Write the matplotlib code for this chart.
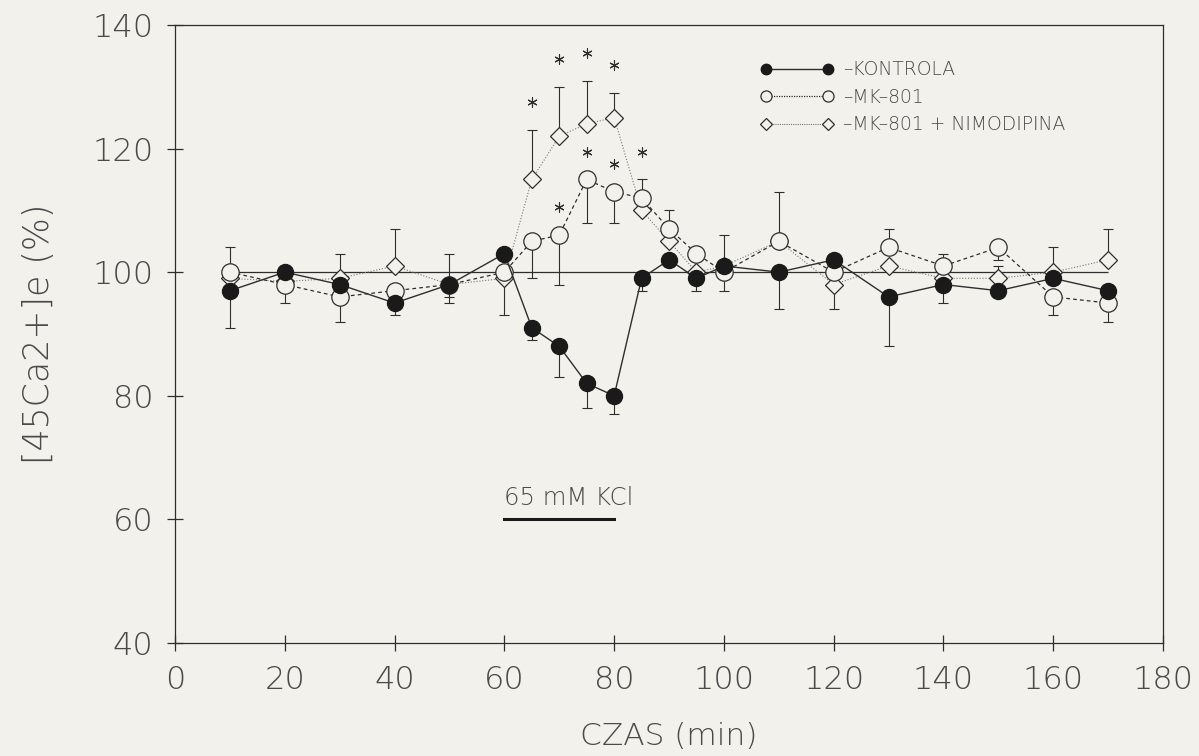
import numpy as np
from matplotlib import pyplot as plt
from matplotlib.lines import Line2D

# sampling times (min)
czas = [10, 20, 30, 40, 50, 60, 65, 70, 75, 80, 85, 90, 95, 100,
        110, 120, 130, 140, 150, 160, 170]

# [45Ca2+]e as % of baseline
kontrola = [97, 100, 98, 95, 98, 103, 91, 88, 82, 80, 99, 102, 99, 101,
            100, 102, 96, 98, 97, 99, 97]
mk801 = [100, 98, 96, 97, 98, 100, 105, 106, 115, 113, 112, 107, 103, 100,
         105, 100, 104, 101, 104, 96, 95]
nimodipina = [99, 98.5, 99, 101, 98, 99, 115, 122, 124, 125, 110, 105, 100, 101,
              105, 98, 101, 99, 99, 100, 102]

# SEM, only the side that is drawn (0 = not drawn)
kontrola_up = [0, 1, 0, 0, 5, 0, 0, 0, 0, 0, 0, 0, 0, 0, 0, 1, 0, 0, 0, 0, 0]
kontrola_dn = [6, 0, 0, 2, 0, 0, 2, 5, 4, 3, 2, 0, 2, 4, 6, 0, 8, 3, 0, 0, 0]
mk801_up = [4, 0, 0, 0, 0, 0, 0, 0, 0, 0, 3, 3, 1, 6, 8, 0, 3, 2, 0, 0, 0]
mk801_dn = [0, 3, 4, 0, 3, 7, 6, 8, 7, 5, 0, 0, 0, 0, 0, 0, 0, 0, 2, 3, 3]
nimodipina_up = [0, 0, 4, 6, 0, 0, 8, 8, 7, 4, 0, 0, 0, 0, 0, 0, 0, 0, 2, 4, 5]
nimodipina_dn = [0, 0, 0, 0, 2, 0, 0, 0, 0, 0, 0, 0, 0, 0, 0, 4, 0, 0, 0, 0, 0]

# significant points (p < 0.05)
mk801_sig = [70, 75, 80, 85]
nimodipina_sig = [65, 70, 75, 80]

# KCl application window
kcl_start, kcl_end, kcl_level = 60, 80, 60
kcl_label = "65 mM KCl"

bg = "#f2f1ec"
ink = "#2e2e2e"
txt = "#4a4a4a"

plt.rcParams["font.family"] = ["DejaVu Sans"]
plt.rcParams["font.weight"] = 200

fig = plt.figure(figsize=(11.99, 7.56), dpi=100, facecolor=bg)
ax = fig.add_axes([0.146, 0.1495, 0.824, 0.8175], facecolor=bg)


def draw_err(x, y, up, dn):
    x = np.asarray(x, float)
    y = np.asarray(y, float)
    for err, upper in ((np.asarray(up, float), True), (np.asarray(dn, float), False)):
        m = err > 0
        zeros = np.zeros(m.sum())
        yerr = [zeros, err[m]] if upper else [err[m], zeros]
        ax.errorbar(x[m], y[m], yerr=yerr, fmt="none", ecolor=ink,
                    elinewidth=0.8, capsize=3.6, capthick=0.8, zorder=2)


def draw_stars(sig, y, up):
    top = {t: v + e for t, v, e in zip(czas, y, up)}
    ax.scatter(sig, [top[t] + 4.5 for t in sig], marker=(6, 2, 0), s=45,
               color=ink, linewidths=0.8, zorder=5)


ax.hlines(100, czas[0], czas[-1], color=ink, lw=0.9, zorder=1)

draw_err(czas, nimodipina, nimodipina_up, nimodipina_dn)
draw_err(czas, mk801, mk801_up, mk801_dn)
draw_err(czas, kontrola, kontrola_up, kontrola_dn)

ax.plot(czas, nimodipina, color="#777777", lw=0.8, ls=(0, (1, 1.6)),
        marker="D", ms=9, mfc=bg, mec=ink, mew=0.9, zorder=3)
ax.plot(czas, mk801, color=ink, lw=0.9, ls=(0, (3, 2.5)),
        marker="o", ms=12.5, mfc=bg, mec=ink, mew=0.9, zorder=3.5)
ax.plot(czas, kontrola, color=ink, lw=1.0, ls="-",
        marker="o", ms=11.5, mfc="#1a1a1a", mec="#1a1a1a", zorder=4)

draw_stars(mk801_sig, mk801, mk801_up)
draw_stars(nimodipina_sig, nimodipina, nimodipina_up)

# KCl bar
ax.plot([kcl_start, kcl_end], [kcl_level, kcl_level], color="#1a1a1a", lw=2.2)
ax.text(kcl_start, kcl_level + 2.3, kcl_label, fontsize=17.5, color=txt,
        ha="left", va="baseline")

ax.set_xlim(0, 180)
ax.set_ylim(40, 140)
ax.set_xticks(np.arange(0, 181, 20))
ax.set_yticks(np.arange(40, 141, 20))
ax.tick_params(axis="both", direction="inout", length=11, width=0.9,
               color=ink, labelsize=23, labelcolor=txt)
ax.tick_params(axis="x", pad=10)
ax.tick_params(axis="y", pad=10)
for s in ax.spines.values():
    s.set_color(ink)
    s.set_linewidth(0.9)

ax.set_xlabel("CZAS (min)", fontsize=22.5, fontweight=200, color=txt, labelpad=20)
ax.set_ylabel("[45Ca2+]e (%)", fontsize=25, fontweight=200, color=txt, labelpad=26)

handles = [
    Line2D([], [], color=ink, lw=1.0, marker="o", ms=7.5, mfc="#1a1a1a", mec="#1a1a1a"),
    Line2D([], [], color=ink, lw=0.9, ls=(0, (1, 1)), marker="o", ms=8, mfc=bg, mec=ink, mew=0.9),
    Line2D([], [], color="#777777", lw=0.8, ls=(0, (1, 1)), marker="D", ms=6, mfc=bg, mec=ink, mew=0.9),
]
labels = ["\u2013KONTROLA", "\u2013MK\u2013801", "\u2013MK\u2013801 + NIMODIPINA"]
ax.legend(handles, labels, loc="upper left", bbox_to_anchor=(0.575, 0.97),
          frameon=False, numpoints=2, handlelength=3.9, handletextpad=0.55,
          labelspacing=0.45, fontsize=13.5, labelcolor=txt)

fig.savefig("out.png", dpi=100, facecolor=bg)
